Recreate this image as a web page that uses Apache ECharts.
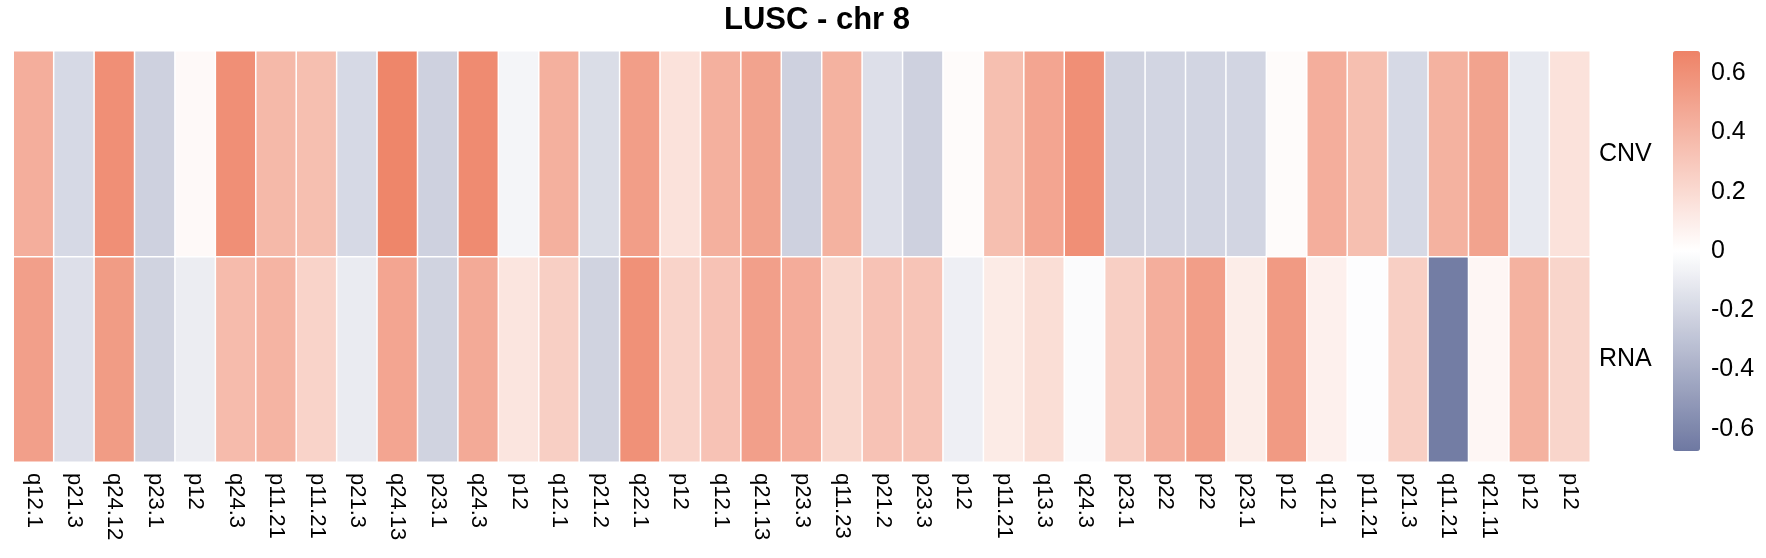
<!DOCTYPE html>
<html>
<head>
<meta charset="utf-8">
<title>LUSC - chr 8</title>
<script src="https://cdn.jsdelivr.net/npm/echarts@6/dist/echarts.min.js"></script>
<style>
  html, body { margin: 0; padding: 0; background: #fff; }
  #main { width: 1766px; height: 558px; }
</style>
</head>
<body>
<div id="main"></div>
<script>
// chromosome bands (columns), left to right
const bands = ['q12.1', 'p21.3', 'q24.12', 'p23.1', 'p12', 'q24.3', 'p11.21', 'p11.21', 'p21.3', 'q24.13',
  'p23.1', 'q24.3', 'p12', 'q12.1', 'p21.2', 'q22.1', 'p12', 'q12.1', 'q21.13', 'p23.3',
  'q11.23', 'p21.2', 'p23.3', 'p12', 'p11.21', 'q13.3', 'q24.3', 'p23.1', 'p22', 'p22',
  'p23.1', 'p12', 'q12.1', 'p11.21', 'p21.3', 'q11.21', 'q21.11', 'p12', 'p12'];
const rows = ['RNA', 'CNV'];

// values
const cnv = [0.44, -0.19, 0.61, -0.23, 0.03, 0.61, 0.38, 0.35, -0.19, 0.66,
  -0.23, 0.63, -0.05, 0.43, -0.17, 0.53, 0.16, 0.43, 0.50, -0.23,
  0.42, -0.16, -0.23, 0.02, 0.35, 0.49, 0.61, -0.22, -0.21, -0.21,
  -0.21, 0.02, 0.44, 0.35, -0.19, 0.42, 0.50, -0.11, 0.16];
const rna = [0.52, -0.16, 0.54, -0.22, -0.09, 0.37, 0.41, 0.24, -0.10, 0.49,
  -0.22, 0.46, 0.14, 0.26, -0.22, 0.60, 0.24, 0.33, 0.52, 0.45,
  0.22, 0.33, 0.32, -0.08, 0.11, 0.18, -0.02, 0.26, 0.44, 0.53,
  0.10, 0.55, 0.08, -0.01, 0.26, -0.65, 0.05, 0.42, 0.23];

const legendTicks = [-0.6, -0.4, -0.2, 0, 0.2, 0.4, 0.6];
const colorMin = -0.675, colorMax = 0.675;

const FONT = 'Liberation Sans, Arial, sans-serif';

// build [x, y, value] cells
let cells = [];
bands.forEach(function (b, i) {
  cells.push([i, 0, rna[i]]);
  cells.push([i, 1, cnv[i]]);
});

var myChart = echarts.init(document.getElementById('main'));
var option = {
  animation: false,
  backgroundColor: '#fff',
  title: {
    text: 'LUSC - chr 8',
    left: 724,
    top: 5,
    padding: 0,
    textStyle: { fontFamily: FONT, fontWeight: 'bold', fontSize: 31, color: '#000' }
  },
  grid: [
    { left: 13.5, right: 176, top: 51, bottom: 96 },
    // grid used only to put tick labels next to the colour bar
    { left: 1673, top: 51, width: 27, height: 400 }
  ],
  xAxis: [
    {
      type: 'category',
      data: bands,
      gridIndex: 0,
      axisLine: { show: false },
      axisTick: { show: false },
      splitLine: { show: false },
      axisLabel: {
        interval: 0,
        rotate: -90,
        margin: 11,
        color: '#000',
        fontFamily: FONT,
        fontSize: 22
      }
    },
    { type: 'value', gridIndex: 1, show: false }
  ],
  yAxis: [
    {
      type: 'category',
      data: rows,
      gridIndex: 0,
      position: 'right',
      axisLine: { show: false },
      axisTick: { show: false },
      splitLine: { show: false },
      axisLabel: { margin: 9, color: '#000', fontFamily: FONT, fontSize: 25 }
    },
    {
      type: 'value',
      gridIndex: 1,
      position: 'right',
      min: colorMin,
      max: colorMax,
      axisLine: { show: false },
      axisTick: { show: false },
      splitLine: { show: false },
      axisLabel: {
        customValues: legendTicks,
        margin: 11,
        color: '#000',
        fontFamily: FONT,
        fontSize: 25
      }
    }
  ],
  visualMap: {
    type: 'continuous',
    min: colorMin,
    max: colorMax,
    calculable: false,
    seriesIndex: 0,
    orient: 'vertical',
    left: 1673,
    top: 51,
    padding: 0,
    itemWidth: 27,
    itemHeight: 400,
    text: null,
    inRange: { color: ['#6E78A1', '#FFFFFF', '#EE8367'] }
  },
  series: [
    {
      type: 'heatmap',
      xAxisIndex: 0,
      yAxisIndex: 0,
      data: cells,
      itemStyle: { borderColor: '#fff', borderWidth: 1.5 },
      emphasis: { disabled: true }
    }
  ]
};
myChart.setOption(option);
</script>
</body>
</html>
